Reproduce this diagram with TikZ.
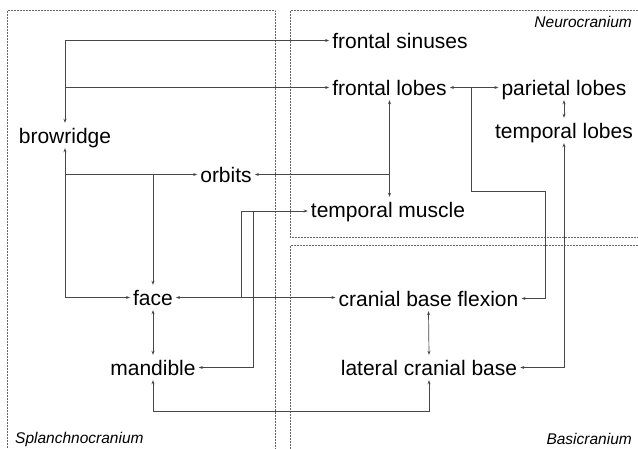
\documentclass[tikz,border=0pt]{standalone}
\usepackage{fontspec}
\setmainfont{Liberation Sans}
\usetikzlibrary{arrows.meta}
\begin{document}
\begin{tikzpicture}[x=1pt,y=-1pt,
  term/.style={anchor=base,font=\fontsize{21}{24}\selectfont,text height=15pt,text depth=0pt,inner xsep=3pt,inner ysep=5pt},
  region/.style={font=\fontsize{15.5}{18}\selectfont\itshape,inner sep=0pt},
  link/.style={draw=black!72,line width=0.7pt},
  tip/.style={-{Stealth[length=4pt,width=3pt]}},
  tips/.style={{Stealth[length=4pt,width=3pt]}-{Stealth[length=4pt,width=3pt]}},
  zone/.style={draw=black!60,densely dotted,line width=0.5pt}]
\clip (0,0) rectangle (638,448);
\fill[white] (0,0) rectangle (638,448);
% regions
\draw[zone] (7,470) -- (7,10) -- (275,10) -- (275,470);
\draw[zone] (660,10) -- (290,10) -- (290,237) -- (660,237);
\draw[zone] (660,245) -- (290,245) -- (290,470);
\node[region,anchor=base east] (neu) at (632,27) {Neurocranium};
\node[region,anchor=base west] (spl) at (15,443) {Splanchnocranium};
\node[region,anchor=base east] (bas) at (632,444) {Basicranium};
% terms
\node[term] (fs) at (400,48) {frontal sinuses};
\node[term] (fl) at (389.5,95) {frontal lobes};
\node[term] (pl) at (564,95) {parietal lobes};
\node[term] (tl) at (564,138) {temporal lobes};
\node[term] (brow) at (65,143) {browridge};
\node[term] (orb) at (226,182) {orbits};
\node[term] (tm) at (388,217) {temporal muscle};
\node[term] (face) at (153,305) {face};
\node[term] (mand) at (153,375) {mandible};
\node[term] (cbf) at (428.5,306) {cranial base flexion};
\node[term] (lcb) at (429,375) {lateral cranial base};
% junction columns
\coordinate (ta) at (241,211);
\coordinate (tb) at (253,211);
\coordinate (k1) at (471,191);
\coordinate (k2) at (545,191);
\coordinate (k3) at (153,411);
% connectors
\draw[link,tips] (brow.north) |- (fs.west);
\draw[link,tip] (brow.north |- fl.west) -- (fl.west);
\draw[link,tips] (brow.south) |- (face.west);
\draw[link,tip] (brow.south |- orb.west) -- (orb.west);
\draw[link,tip] (face.north |- orb.west) -- (face.north);
\draw[link,tips] (fl.south) -- (fl.south |- tm.north);
\draw[link,tip] (fl.south |- orb.east) -- (orb.east);
\draw[link,tip] (ta |- face.east) -- (ta) -- (ta -| tm.west);
\draw[link,tip] (tb) |- (mand.east);
\draw[link,tips] (face.east) -- (face.east -| cbf.west);
\draw[link,tips] (fl.east) -- (pl.west);
\draw[link,tip] (k1 |- fl.east) -- (k1) -- (k2) |- (cbf.east);
\draw[link,tips] (pl.south) -- (tl.north);
\draw[link,tips] (tl.south) |- (lcb.east);
\draw[link,tips] (cbf.south) -- (lcb.north);
\draw[link,tips] (face.south) -- (mand.north);
\draw[link,tips] (mand.south) -- (k3) -| (lcb.south);
\end{tikzpicture}
\end{document}
